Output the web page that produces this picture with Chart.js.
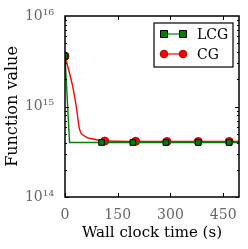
<!DOCTYPE html>
<html lang="en">
<head>
  <meta charset="UTF-8">
  <title>Function value vs wall clock time</title>
  <script src="https://cdn.jsdelivr.net/npm/chart.js"></script>
  <style>
    body { margin: 0; background: #fff; }
    #wrap { width: 248px; height: 249px; }
  </style>
</head>
<body>
  <div id="wrap"><canvas id="chartFv"></canvas></div>

  <script>
    // data
    const lcgTime  = [0, 13, 104, 193, 287, 379, 467, 495];
    const lcgValue = [3.6e15, 4.0e14, 4.0e14, 4.0e14, 4.0e14, 4.0e14, 4.0e14, 4.0e14];
    const lcgMarks = [0, 104, 193, 287, 379, 467];

    const cgTime  = [0, 8, 22, 32, 41, 56, 84, 103, 113, 201, 290, 379, 467, 495];
    const cgValue = [3.6e15, 2.75e15, 1.66e15, 1.0e15, 5.7e14, 4.7e14, 4.35e14, 4.2e14, 4.15e14, 4.12e14, 4.1e14, 4.1e14, 4.1e14, 4.1e14];
    const cgMarks = [0, 113, 201, 290, 379, 467];

    const xTicks = [0, 150, 300, 450];
    const yDecades = [14, 15, 16];

    const serif = 'DejaVu Serif';
    const sup = { '0': '⁰', '1': '¹', '2': '²', '3': '³', '4': '⁴', '5': '⁵', '6': '⁶', '7': '⁷', '8': '⁸', '9': '⁹' };
    const powLabel = e => '10' + String(e).split('').map(c => sup[c]).join('');

    function toXY(t, v) { return t.map((x, i) => ({ x: x, y: v[i] })); }

    // frame, inward ticks and boxed legend
    const framePlugin = {
      id: 'frame',
      afterDatasetsDraw(chart) {
        const ctx = chart.ctx, a = chart.chartArea;
        const xs = chart.scales.x, ys = chart.scales.y;
        ctx.save();
        ctx.strokeStyle = '#000';
        ctx.lineWidth = 1;
        ctx.beginPath();
        xTicks.forEach(t => {
          const px = Math.round(xs.getPixelForValue(t)) + 0.5;
          ctx.moveTo(px, a.bottom); ctx.lineTo(px, a.bottom - 4);
          ctx.moveTo(px, a.top); ctx.lineTo(px, a.top + 4);
        });
        for (let e = yDecades[0]; e < yDecades[yDecades.length - 1]; e++) {
          for (let m = 1; m < 10; m++) {
            const py = Math.round(ys.getPixelForValue(m * Math.pow(10, e))) + 0.5;
            const len = m === 1 ? 4 : 2;
            ctx.moveTo(a.left, py); ctx.lineTo(a.left + len, py);
            ctx.moveTo(a.right, py); ctx.lineTo(a.right - len, py);
          }
        }
        ctx.stroke();
        ctx.lineWidth = 1.5;
        ctx.strokeRect(a.left, a.top, a.right - a.left, a.bottom - a.top);

        // legend
        const lx = a.left + 89, ly = a.top + 7, lw = 79, lh = 44;
        ctx.fillStyle = '#fff';
        ctx.fillRect(lx, ly, lw, lh);
        ctx.lineWidth = 1.2;
        ctx.strokeRect(lx, ly, lw, lh);
        const rows = [
          { label: 'LCG', color: '#008000', edge: '#000', style: 'rect', y: ly + 11 },
          { label: 'CG', color: '#ff0000', edge: '#b00000', style: 'circle', y: ly + 31 }
        ];
        rows.forEach(r => {
          ctx.strokeStyle = r.color;
          ctx.lineWidth = 1.2;
          ctx.beginPath();
          ctx.moveTo(lx + 10, r.y); ctx.lineTo(lx + 29, r.y);
          ctx.stroke();
          [lx + 10, lx + 29].forEach(mx => {
            ctx.fillStyle = r.color;
            ctx.strokeStyle = r.edge;
            ctx.lineWidth = 1;
            ctx.beginPath();
            if (r.style === 'rect') ctx.rect(mx - 3.5, r.y - 3.5, 7, 7);
            else ctx.arc(mx, r.y, 3.8, 0, Math.PI * 2);
            ctx.fill(); ctx.stroke();
          });
          ctx.fillStyle = '#000';
          ctx.font = '14px "' + serif + '"';
          ctx.textBaseline = 'middle';
          ctx.fillText(r.label, lx + 43, r.y + 1);
        });
        ctx.restore();
      }
    };

    new Chart(document.getElementById('chartFv'), {
      type: 'line',
      data: {
        datasets: [{
          label: 'LCG',
          data: toXY(lcgTime, lcgValue),
          borderColor: '#008000',
          backgroundColor: '#008000',
          borderWidth: 1.4,
          pointStyle: 'rect',
          pointBorderColor: '#000',
          pointBorderWidth: 1,
          pointRadius: c => lcgMarks.includes(lcgTime[c.dataIndex]) ? 4 : 0,
          tension: 0
        }, {
          label: 'CG',
          data: toXY(cgTime, cgValue),
          borderColor: '#ff0000',
          backgroundColor: '#ff0000',
          borderWidth: 1.4,
          pointStyle: 'circle',
          pointBorderColor: '#b00000',
          pointBorderWidth: 1,
          pointRadius: c => cgMarks.includes(cgTime[c.dataIndex]) ? 4 : 0,
          cubicInterpolationMode: 'monotone'
        }]
      },
      options: {
        responsive: true,
        maintainAspectRatio: false,
        animation: false,
        layout: { padding: { left: 3, right: 9, top: 16, bottom: 7 } },
        plugins: { legend: { display: false }, tooltip: { enabled: false } },
        scales: {
          x: {
            type: 'linear',
            min: 0,
            max: 495,
            afterFit(s) { s.height = 45; },
            grid: { display: false },
            border: { display: false },
            ticks: {
              includeBounds: false,
              stepSize: 150,
              maxRotation: 0,
              padding: 2,
              color: '#666',
              font: { family: serif, size: 14 },
              callback: v => xTicks.includes(v) ? String(v) : ''
            },
            title: {
              display: true,
              text: 'Wall clock time (s)',
              color: '#000',
              padding: 0,
              font: { family: serif, size: 15 }
            }
          },
          y: {
            type: 'logarithmic',
            min: 1e14,
            max: 1e16,
            afterFit(s) { s.width = 62; },
            grid: { display: false },
            border: { display: false },
            ticks: {
              autoSkip: false,
              padding: 3,
              color: '#666',
              font: { family: serif, size: 14 },
              callback: v => {
                const e = Math.log10(v);
                return Math.abs(e - Math.round(e)) < 1e-9 && yDecades.includes(Math.round(e)) ? powLabel(Math.round(e)) : '';
              }
            },
            title: {
              display: true,
              text: 'Function value',
              color: '#000',
              padding: 0,
              font: { family: serif, size: 16 }
            }
          }
        }
      },
      plugins: [framePlugin]
    });
  </script>
</body>
</html>
